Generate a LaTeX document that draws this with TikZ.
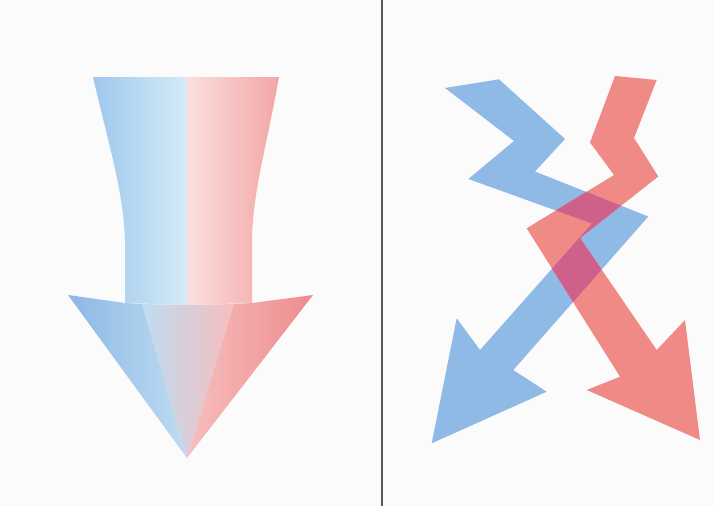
\documentclass[tikz,border=0pt]{standalone}
\usetikzlibrary{calc}
\definecolor{bgc}{RGB}{251,251,251}
\definecolor{bluea}{RGB}{143,186,230}
\definecolor{reda}{RGB}{240,138,134}
\definecolor{overl}{RGB}{206,96,138}
\definecolor{divc}{RGB}{90,90,90}
\definecolor{sbl1}{RGB}{158,200,236}
\definecolor{sbl2}{RGB}{214,235,247}
\definecolor{srd1}{RGB}{252,222,222}
\definecolor{srd2}{RGB}{242,166,166}
\definecolor{hbl1}{RGB}{140,184,230}
\definecolor{hbl2}{RGB}{190,220,242}
\definecolor{hmid}{RGB}{216,200,222}
\definecolor{hrd1}{RGB}{246,190,190}
\definecolor{hrd2}{RGB}{238,140,140}
\tikzset{
  bluearrow/.style={fill=bluea},
  redarrow/.style={fill=reda},
  divider/.style={draw=divc,line width=1.4pt}
}
\begin{document}
\begin{tikzpicture}[x=1pt,y=-1pt]
\useasboundingbox (0,0) rectangle (714,506);
\fill[bgc] (0,0) rectangle (714,506);
% ---- left arrow: shaft
\shade[left color=sbl1,right color=sbl2]
  (93,77) -- (187,77) -- (188,305) -- (125,303) -- (125,240)
  .. controls (123,190) and (110,150) .. cycle;
\shade[left color=srd1,right color=srd2]
  (187,77) -- (279,77) .. controls (266,150) and (253,190) .. (252,240)
  -- (252,303) -- (188,305) -- cycle;
% ---- left arrow: head facets
\shade[left color=hbl1,right color=hbl2]
  (68,295) -- (125,303) -- (142,304) -- (187,458) -- cycle;
\shade[left color=hbl2,middle color=hmid,right color=hrd1]
  (142,304) -- (188,305) -- (234,304) -- (187,458) -- cycle;
\shade[left color=hrd1,right color=hrd2]
  (234,304) -- (252,303) -- (313,295) -- (187,458) -- cycle;
% ---- divider
\draw[divider] (382,0) -- (382,506);
% ---- right: arrows
\def\bluepath{(445,88) -- (499,79.3) -- (565,139) -- (535,171.5)
  -- (648.3,216.5) -- (513.3,370) -- (546.7,391.7) -- (431.7,443.3)
  -- (456.7,318.3) -- (480,350) -- (592,223.5) -- (468.3,179)
  -- (514,141) -- cycle}
\def\redpath{(615,76) -- (656.7,80) -- (634,138) -- (658.3,176.5)
  -- (580,238) -- (656.7,350) -- (685,320) -- (700,440)
  -- (586.7,390) -- (620,376.7) -- (526.7,228.3) -- (614,175)
  -- (590,142.5) -- cycle}
\fill[bluearrow] \bluepath;
\fill[redarrow] \redpath;
\begin{scope}
  \clip \bluepath;
  \fill[overl] \redpath;
\end{scope}
\end{tikzpicture}
\end{document}
